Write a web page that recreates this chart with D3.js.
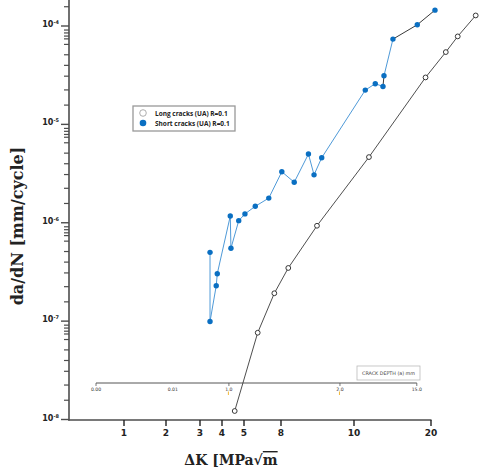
<!DOCTYPE html>
<html>
<head>
<meta charset="utf-8">
<script src="https://cdn.jsdelivr.net/npm/d3@7"></script>
<style>
  body { margin: 0; background: #fff; }
</style>
</head>
<body>
<div id="chart"></div>
<script>
// values
var longK = [4.55, 5.95, 7.35, 8.18, 8.93, 11.44, 19.04, 22.85, 25.44, 29.91];
var longRate = [1.22e-8, 7.62e-8, 1.92e-7, 3.47e-7, 9.32e-7, 4.65e-6, 3.0e-5, 5.43e-5, 7.84e-5, 1.28e-4];

var shortK = [3.42, 3.42, 3.71, 3.76, 4.35, 4.38, 4.74, 5.06, 5.77, 6.85, 8.02,
    8.33, 8.70, 8.85, 9.06, 11.07, 12.11, 12.98, 13.10, 14.20, 17.68, 20.73];
var shortRate = [5.0e-7, 9.9e-8, 2.29e-7, 3.03e-7, 1.17e-6, 5.5e-7, 1.05e-6, 1.23e-6, 1.47e-6,
    1.78e-6, 3.30e-6, 2.58e-6, 4.99e-6, 3.07e-6, 4.58e-6, 2.23e-5, 2.59e-5, 2.43e-5,
    3.12e-5, 7.36e-5, 1.03e-4, 1.45e-4];
// segments (i -> i+1) of the short crack line drawn in dark grey
var shortDarkLinks = [17, 19, 20];

var kTicks = [1, 2, 3, 4, 5, 8, 10, 20];
var rateDecades = [-8, -7, -6, -5, -4];
var rateMinor = [1.57, 2.24, 3.09, 3.98, 5.1, 6.5, 7.4, 7.9, 8.5, 9.1];

// crack depth scale drawn inside the plot, at the K it lines up with
var depthLabels = ["0.00", "0.01", "1.0", "2.0", "15.0"];
var depthAtK = [0.63, 2.17, 4.29, 9.58, 17.6];

var legendLabels = ["Long cracks (UA) R=0.1", "Short cracks (UA) R=0.1"];

var W = 480, H = 475;
var svg = d3.select("#chart").append("svg")
    .attr("width", W)
    .attr("height", H)
    .style("font-family", "'DejaVu Sans', sans-serif");

// the K axis of the original is not an even log axis, so piecewise log
var x = d3.scaleLog()
    .domain(kTicks)
    .range([124, 166, 200, 222, 244, 281, 354, 431]);
var y = d3.scaleLog()
    .domain([1e-8, 1e-4])
    .range([419.5, 26]);

var axisColor = "#4d4d4d";

// y axis line
svg.append("line")
    .attr("x1", 69).attr("x2", 69)
    .attr("y1", 0).attr("y2", 420.5)
    .attr("stroke", axisColor).attr("stroke-width", 1.6);

// y ticks, major and minor
var minorVals = [];
rateDecades.slice(0, -1).forEach(function (e) {
    rateMinor.forEach(function (m) { minorVals.push(m * Math.pow(10, e)); });
});
rateMinor.forEach(function (m) {
    var v = m * 1e-4;
    if (y(v) > 1) minorVals.push(v);
});
svg.selectAll(".yminor").data(minorVals).enter().append("line")
    .attr("x1", 64).attr("x2", 69)
    .attr("y1", function (d) { return y(d); })
    .attr("y2", function (d) { return y(d); })
    .attr("stroke", axisColor).attr("stroke-width", 1.2);

var ylab = svg.selectAll(".ymajor").data(rateDecades).enter().append("g");
ylab.append("line")
    .attr("x1", 61).attr("x2", 69)
    .attr("y1", function (d) { return y(Math.pow(10, d)); })
    .attr("y2", function (d) { return y(Math.pow(10, d)); })
    .attr("stroke", axisColor).attr("stroke-width", 1.4);
var yt = ylab.append("text")
    .attr("x", 59)
    .attr("y", function (d) { return y(Math.pow(10, d)) + 1; })
    .attr("text-anchor", "end")
    .style("font-size", "8px")
    .style("font-weight", "bold")
    .attr("fill", "#222");
yt.append("tspan").text("10");
yt.append("tspan")
    .attr("dy", -3)
    .style("font-size", "5px")
    .text(function (d) { return d; });

// x axis
svg.append("line")
    .attr("x1", 68.2).attr("x2", 431.5)
    .attr("y1", 420).attr("y2", 420)
    .attr("stroke", axisColor).attr("stroke-width", 1.6);
var xg = svg.selectAll(".xtick").data(kTicks).enter().append("g");
xg.append("line")
    .attr("x1", function (d) { return x(d); })
    .attr("x2", function (d) { return x(d); })
    .attr("y1", 420).attr("y2", 426)
    .attr("stroke", "#222").attr("stroke-width", 1.4);
xg.append("text")
    .attr("x", function (d) { return x(d); })
    .attr("y", 436)
    .attr("text-anchor", "middle")
    .style("font-size", "9px")
    .style("font-weight", "bold")
    .attr("fill", "#222")
    .text(function (d) { return d; });

// axis titles
var xtitle = svg.append("text")
    .attr("x", 231).attr("y", 465)
    .attr("text-anchor", "middle")
    .style("font-family", "'DejaVu Serif', 'Liberation Serif', serif")
    .style("font-size", "14px")
    .style("font-weight", "bold")
    .attr("fill", "#222");
xtitle.append("tspan").text("\u0394K [MPa\u221A");
xtitle.append("tspan").style("text-decoration", "overline").text("m");

svg.append("text")
    .attr("transform", "translate(23,226) rotate(-90)")
    .attr("text-anchor", "middle")
    .style("font-family", "'DejaVu Serif', 'Liberation Serif', serif")
    .style("font-size", "16px")
    .style("font-weight", "bold")
    .attr("fill", "#222")
    .text("da/dN [mm/cycle]");

// crack depth scale
var depthY = 383;
svg.append("line")
    .attr("x1", x(depthAtK[0])).attr("x2", x(depthAtK[depthAtK.length - 1]))
    .attr("y1", depthY).attr("y2", depthY)
    .attr("stroke", "#555").attr("stroke-width", 1);
var dg = svg.selectAll(".depth").data(depthLabels).enter().append("g");
dg.filter(function (d, i) { return i != 1; }).append("line")
    .attr("x1", function (d) { return x(depthAtK[depthLabels.indexOf(d)]); })
    .attr("x2", function (d) { return x(depthAtK[depthLabels.indexOf(d)]); })
    .attr("y1", depthY).attr("y2", depthY + 3)
    .attr("stroke", "#555").attr("stroke-width", 0.8);
dg.append("text")
    .attr("x", function (d, i) { return x(depthAtK[i]); })
    .attr("y", depthY + 7.5)
    .attr("text-anchor", "middle")
    .style("font-size", "4.6px")
    .attr("fill", "#333")
    .text(function (d) { return d; });
dg.filter(function (d) { return d == "1.0" || d == "2.0"; }).append("line")
    .attr("x1", function (d) { return x(depthAtK[depthLabels.indexOf(d)]) - 0.5; })
    .attr("x2", function (d) { return x(depthAtK[depthLabels.indexOf(d)]) - 0.5; })
    .attr("y1", depthY + 8.5).attr("y2", depthY + 12)
    .attr("stroke", "#f0b020").attr("stroke-width", 0.9);
svg.append("rect")
    .attr("x", 357).attr("y", 366)
    .attr("width", 63).attr("height", 14)
    .attr("fill", "#fff").attr("stroke", "#bbb").attr("stroke-width", 0.8);
svg.append("text")
    .attr("x", 388.5).attr("y", 374.7)
    .attr("text-anchor", "middle")
    .style("font-size", "4.8px")
    .attr("fill", "#444")
    .text("CRACK DEPTH (a) mm");

// long cracks
var longPts = longK.map(function (k, i) { return [k, longRate[i]]; });
var line = d3.line()
    .x(function (d) { return x(d[0]); })
    .y(function (d) { return y(d[1]); });
svg.append("path")
    .datum(longPts)
    .attr("fill", "none")
    .attr("stroke", "#3a3a3a")
    .attr("stroke-width", 0.9)
    .attr("d", line);
svg.selectAll(".long").data(longPts).enter().append("circle")
    .attr("cx", function (d) { return x(d[0]); })
    .attr("cy", function (d) { return y(d[1]); })
    .attr("r", 2.4)
    .attr("fill", "#fff")
    .attr("stroke", "#222")
    .attr("stroke-width", 0.9);

// short cracks, segment by segment
var shortPts = shortK.map(function (k, i) { return [k, shortRate[i]]; });
var segs = d3.pairs(shortPts);
svg.selectAll(".seg").data(segs).enter().append("path")
    .attr("fill", "none")
    .attr("stroke", function (d, i) { return shortDarkLinks.indexOf(i) >= 0 ? "#3a3a3a" : "#4f9ad8"; })
    .attr("stroke-width", 1)
    .attr("d", line);
svg.selectAll(".short").data(shortPts).enter().append("circle")
    .attr("cx", function (d) { return x(d[0]); })
    .attr("cy", function (d) { return y(d[1]); })
    .attr("r", 2.7)
    .attr("fill", "#0a6fc2");

// legend
var lg = svg.append("g");
lg.append("rect")
    .attr("x", 133).attr("y", 106)
    .attr("width", 102).attr("height", 25)
    .attr("fill", "#fff")
    .attr("stroke", "#999").attr("stroke-width", 1.3);
lg.selectAll("circle").data(legendLabels).enter().append("circle")
    .attr("cx", 143)
    .attr("cy", function (d, i) { return 113 + i * 10; })
    .attr("r", 3.3)
    .attr("fill", function (d, i) { return i == 0 ? "#fff" : "#0a6fc2"; })
    .attr("stroke", function (d, i) { return i == 0 ? "#999" : "none"; })
    .attr("stroke-width", 0.8);
lg.selectAll("text").data(legendLabels).enter().append("text")
    .attr("x", 155)
    .attr("y", function (d, i) { return 115.5 + i * 10; })
    .style("font-family", "'Open Sans', sans-serif")
    .style("font-size", "6.5px")
    .style("font-weight", "bold")
    .attr("fill", "#222")
    .text(function (d) { return d; });
</script>
</body>
</html>
